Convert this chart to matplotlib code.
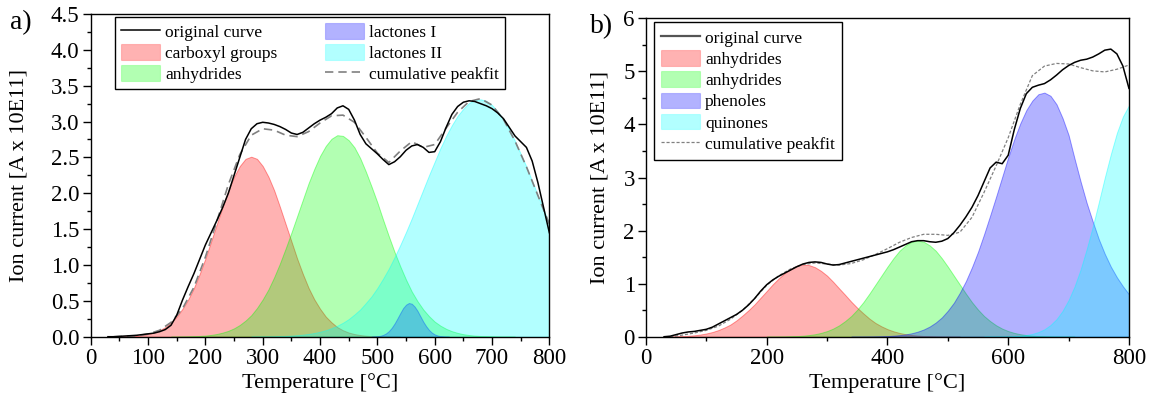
import numpy as np
import matplotlib
matplotlib.use("Agg")
import matplotlib.pyplot as plt
from matplotlib.patches import Patch
from matplotlib.lines import Line2D

plt.rcParams['font.family'] = ['Liberation Serif', 'DejaVu Serif']

# ---------------- panel a data ----------------
temp_a_orig = np.arange(30, 801, 10)
orig_a = [0.00, 0.00, 0.005, 0.01, 0.015, 0.02, 0.03, 0.04, 0.05, 0.07,
          0.10, 0.16, 0.30, 0.51, 0.70, 0.88, 1.08, 1.28, 1.45, 1.62,
          1.80, 2.00, 2.25, 2.50, 2.75, 2.90, 2.97, 2.99, 2.98, 2.96,
          2.93, 2.89, 2.84, 2.82, 2.85, 2.91, 2.97, 3.02, 3.06, 3.11,
          3.19, 3.22, 3.17, 3.02, 2.82, 2.69, 2.62, 2.55, 2.47, 2.40,
          2.44, 2.51, 2.60, 2.66, 2.68, 2.64, 2.57, 2.58, 2.72, 2.92,
          3.10, 3.21, 3.27, 3.29, 3.28, 3.25, 3.22, 3.18, 3.12, 3.04,
          2.92, 2.80, 2.72, 2.64, 2.45, 2.15, 1.80, 1.45]

temp_a_carboxyl = np.arange(40, 541, 10)
carboxyl_a = [0.001, 0.003, 0.005, 0.008, 0.014, 0.023, 0.037, 0.058, 0.09, 0.134,
              0.20, 0.28, 0.39, 0.52, 0.68, 0.875, 1.09, 1.33, 1.57, 1.81,
              2.04, 2.23, 2.38, 2.48, 2.51, 2.48, 2.38, 2.23, 2.04, 1.81,
              1.57, 1.33, 1.09, 0.875, 0.68, 0.52, 0.39, 0.28, 0.20, 0.134,
              0.09, 0.058, 0.037, 0.023, 0.014, 0.008, 0.005, 0.003, 0.001, 0.001,
              0.0]

temp_a_anhydrides = np.arange(140, 741, 10)
anhydrides_a = [0.001, 0.001, 0.003, 0.004, 0.007, 0.011, 0.016, 0.025, 0.038, 0.057,
                0.082, 0.117, 0.164, 0.225, 0.30, 0.40, 0.52, 0.66, 0.83, 1.02,
                1.23, 1.45, 1.68, 1.91, 2.14, 2.34, 2.52, 2.66, 2.76, 2.81,
                2.80, 2.74, 2.64, 2.49, 2.30, 2.09, 1.87, 1.63, 1.40, 1.18,
                0.98, 0.795, 0.63, 0.495, 0.38, 0.287, 0.21, 0.154, 0.11, 0.077,
                0.053, 0.035, 0.023, 0.015, 0.010, 0.006, 0.004, 0.002, 0.001, 0.001,
                0.0]

temp_a_lac1 = np.arange(490, 626, 5)
lactones1_a = [0.001, 0.003, 0.006, 0.013, 0.025, 0.046, 0.078, 0.124, 0.184, 0.255,
               0.33, 0.40, 0.447, 0.47, 0.46, 0.42, 0.36, 0.285, 0.21, 0.147,
               0.095, 0.057, 0.032, 0.017, 0.008, 0.004, 0.002, 0.001]

temp_a_lac2 = np.arange(280, 801, 10)
lactones2_a = [0.001, 0.002, 0.003, 0.004, 0.005, 0.008, 0.011, 0.015, 0.021, 0.029,
               0.039, 0.052, 0.069, 0.091, 0.119, 0.153, 0.195, 0.246, 0.31, 0.38,
               0.47, 0.565, 0.68, 0.81, 0.95, 1.11, 1.28, 1.46, 1.65, 1.85,
               2.05, 2.25, 2.44, 2.63, 2.80, 2.95, 3.08, 3.18, 3.26, 3.30,
               3.31, 3.29, 3.23, 3.14, 3.03, 2.89, 2.73, 2.55, 2.37, 2.17,
               1.97, 1.77, 1.57]

temp_a_cum = np.arange(40, 801, 20)
cumulative_a = [0.00, 0.005, 0.014, 0.037, 0.09, 0.20, 0.39, 0.69, 1.11, 1.61,
                2.12, 2.54, 2.81, 2.90, 2.88, 2.81, 2.79, 2.86, 2.98, 3.08,
                3.09, 2.99, 2.78, 2.56, 2.43, 2.59, 2.72, 2.64, 2.68, 2.91,
                3.13, 3.28, 3.32, 3.23, 3.03, 2.73, 2.37, 1.97, 1.57]

# ---------------- panel b data ----------------
temp_b_orig = np.arange(30, 801, 10)
orig_b = [0.00, 0.01, 0.04, 0.07, 0.09, 0.10, 0.12, 0.14, 0.18, 0.24,
          0.30, 0.36, 0.42, 0.50, 0.60, 0.72, 0.86, 0.98, 1.07, 1.14,
          1.20, 1.26, 1.32, 1.37, 1.40, 1.41, 1.40, 1.37, 1.35, 1.36,
          1.39, 1.42, 1.45, 1.48, 1.51, 1.54, 1.57, 1.60, 1.64, 1.69,
          1.74, 1.79, 1.81, 1.81, 1.79, 1.78, 1.80, 1.85, 1.96, 2.10,
          2.26, 2.44, 2.66, 2.92, 3.18, 3.29, 3.26, 3.42, 3.90, 4.30,
          4.58, 4.70, 4.74, 4.77, 4.84, 4.93, 5.03, 5.11, 5.17, 5.21,
          5.23, 5.27, 5.33, 5.40, 5.42, 5.33, 5.10, 4.68]

temp_b_anh1 = np.arange(40, 521, 10)
anhydrides1_b = [0.004, 0.007, 0.011, 0.017, 0.027, 0.041, 0.061, 0.088, 0.125, 0.173,
                 0.23, 0.308, 0.40, 0.50, 0.61, 0.736, 0.86, 0.987, 1.10, 1.20,
                 1.28, 1.34, 1.36, 1.35, 1.31, 1.24, 1.15, 1.035, 0.91, 0.787,
                 0.66, 0.544, 0.44, 0.342, 0.26, 0.196, 0.143, 0.102, 0.071, 0.048,
                 0.032, 0.021, 0.013, 0.008, 0.005, 0.003, 0.002, 0.001, 0.0]

temp_b_anh2 = np.arange(200, 711, 10)
anhydrides2_b = [0.001, 0.001, 0.002, 0.004, 0.007, 0.012, 0.019, 0.031, 0.047, 0.072,
                 0.106, 0.153, 0.215, 0.295, 0.39, 0.51, 0.65, 0.81, 0.98, 1.15,
                 1.32, 1.48, 1.62, 1.72, 1.79, 1.81, 1.79, 1.72, 1.62, 1.48,
                 1.32, 1.15, 0.98, 0.81, 0.65, 0.51, 0.39, 0.295, 0.215, 0.153,
                 0.106, 0.072, 0.047, 0.031, 0.019, 0.012, 0.007, 0.004, 0.002, 0.001,
                 0.001, 0.0]

temp_b_phen = np.arange(340, 801, 10)
phenoles_b = [0.001, 0.001, 0.002, 0.003, 0.005, 0.007, 0.012, 0.019, 0.029, 0.043,
              0.065, 0.095, 0.136, 0.192, 0.267, 0.363, 0.49, 0.64, 0.83, 1.05,
              1.31, 1.60, 1.93, 2.28, 2.64, 3.01, 3.38, 3.72, 4.02, 4.27,
              4.45, 4.57, 4.60, 4.54, 4.38, 4.12, 3.80, 3.35, 2.92, 2.52,
              2.17, 1.84, 1.56, 1.32, 1.12, 0.95, 0.80]

temp_b_quin = np.arange(560, 801, 10)
quinones_b = [0.0, 0.001, 0.001, 0.003, 0.005, 0.010, 0.018, 0.031, 0.053, 0.088,
              0.14, 0.22, 0.33, 0.486, 0.69, 0.95, 1.27, 1.65, 2.07, 2.53,
              3.00, 3.44, 3.84, 4.15, 4.36]

temp_b_cum = np.arange(40, 801, 20)
cumulative_b = [0.00, 0.03, 0.07, 0.12, 0.20, 0.33, 0.50, 0.72, 0.97, 1.15,
                1.28, 1.36, 1.39, 1.37, 1.35, 1.38, 1.45, 1.55, 1.66, 1.78,
                1.87, 1.93, 1.93, 1.91, 1.97, 2.25, 2.72, 3.22, 3.75, 4.38,
                4.92, 5.10, 5.15, 5.14, 5.07, 5.01, 4.99, 5.04, 5.12]

labels_a = ["original curve", "carboxyl groups", "anhydrides",
            "lactones I", "lactones II", "cumulative peakfit"]
labels_b = ["original curve", "anhydrides", "anhydrides", "phenoles",
            "quinones", "cumulative peakfit"]

RED = (1.0, 0.0, 0.0)
GREEN = (0.0, 1.0, 0.0)
BLUE = (0.0, 0.0, 1.0)
CYAN = (0.0, 1.0, 1.0)
ALPHA = 0.3

fig = plt.figure(figsize=(11.5, 4.08), dpi=100)
ax_a = fig.add_axes([0.0789, 0.1747, 0.3988, 0.7910])
ax_b = fig.add_axes([0.5617, 0.1747, 0.4200, 0.7804])


def fill(ax, x, y, color):
    ax.fill_between(x, 0, y, facecolor=color + (ALPHA,),
                    edgecolor=color + (0.4,), linewidth=0.7)


def style(ax, ymax, ymaj, ymin, xmaj, xmin, ylab_x):
    ax.set_xlim(0, 800)
    ax.set_ylim(0, ymax)
    ax.set_xticks(np.arange(0, 801, xmaj))
    ax.set_xticks(np.arange(0, 801, xmin), minor=True)
    ax.set_yticks(np.arange(0, ymax + 1e-9, ymaj))
    ax.set_yticks(np.arange(0, ymax + 1e-9, ymin), minor=True)
    ax.tick_params(which='both', direction='out', top=False, right=False,
                   labelsize=16.5, width=1.0, colors='black')
    ax.tick_params(which='major', length=5.5, pad=2.5)
    ax.tick_params(which='minor', length=3)
    for s in ax.spines.values():
        s.set_linewidth(1.0)
    ax.set_xlabel("Temperature [°C]", fontsize=16, labelpad=3)
    ax.set_ylabel("Ion current [A x 10E11]", fontsize=16)
    ax.yaxis.set_label_coords(ylab_x, 0.5)


def patch(c):
    return Patch(facecolor=c + (ALPHA,), edgecolor=c + (0.2,), linewidth=0.8)


# ---- panel a ----
fill(ax_a, temp_a_carboxyl, carboxyl_a, RED)
fill(ax_a, temp_a_anhydrides, anhydrides_a, GREEN)
fill(ax_a, temp_a_lac1, lactones1_a, BLUE)
fill(ax_a, temp_a_lac2, lactones2_a, CYAN)
ax_a.plot(temp_a_cum, cumulative_a, color='#808080', lw=1.2, ls=(0, (5, 3)))
ax_a.plot(temp_a_orig, orig_a, color='black', lw=1.1)
style(ax_a, 4.5, 0.5, 0.25, 100, 50, -0.135)
ax_a.yaxis.set_major_formatter(plt.FormatStrFormatter('%.1f'))

handles_a = [Line2D([], [], color='black', lw=1.1), patch(RED), patch(GREEN),
             patch(BLUE), patch(CYAN),
             Line2D([], [], color='#808080', lw=1.2, ls=(0, (5, 3)))]
leg_a = ax_a.legend(handles_a, labels_a, ncol=2, loc='upper left',
                    bbox_to_anchor=(0.053, 0.743, 0.850, 0.248), mode='expand',
                    fontsize=12.5, frameon=True, fancybox=False, edgecolor='black',
                    framealpha=1, handlelength=2.25, handleheight=1.0,
                    handletextpad=0.3, labelspacing=0.2, borderpad=0.35,
                    columnspacing=1.0, borderaxespad=0)
leg_a.get_frame().set_linewidth(1.0)

fig.text(0.009, 0.945, "a)", fontsize=20, ha='left', va='center')

# ---- panel b ----
fill(ax_b, temp_b_anh1, anhydrides1_b, RED)
fill(ax_b, temp_b_anh2, anhydrides2_b, GREEN)
fill(ax_b, temp_b_phen, phenoles_b, BLUE)
fill(ax_b, temp_b_quin, quinones_b, CYAN)
ax_b.plot(temp_b_cum, cumulative_b, color='#808080', lw=0.9, ls=(0, (2.5, 1.5)))
ax_b.plot(temp_b_orig, orig_b, color='black', lw=1.1)
style(ax_b, 6, 1, 0.5, 200, 100, -0.075)

handles_b = [Line2D([], [], color='#555555', lw=1.6), patch(RED), patch(GREEN),
             patch(BLUE), patch(CYAN),
             Line2D([], [], color='#808080', lw=0.9, ls=(0, (2.5, 1.5)))]
leg_b = ax_b.legend(handles_b, labels_b, ncol=1, loc='upper left',
                    bbox_to_anchor=(0.0166, 0.988),
                    fontsize=12.5, frameon=True, fancybox=False, edgecolor='black',
                    framealpha=1, handlelength=2.25, handleheight=1.0,
                    handletextpad=0.3, labelspacing=0.2, borderpad=0.4,
                    borderaxespad=0)
leg_b.get_frame().set_linewidth(1.0)

fig.text(0.513, 0.935, "b)", fontsize=20, ha='left', va='center')

fig.savefig("out.png", dpi=100)
